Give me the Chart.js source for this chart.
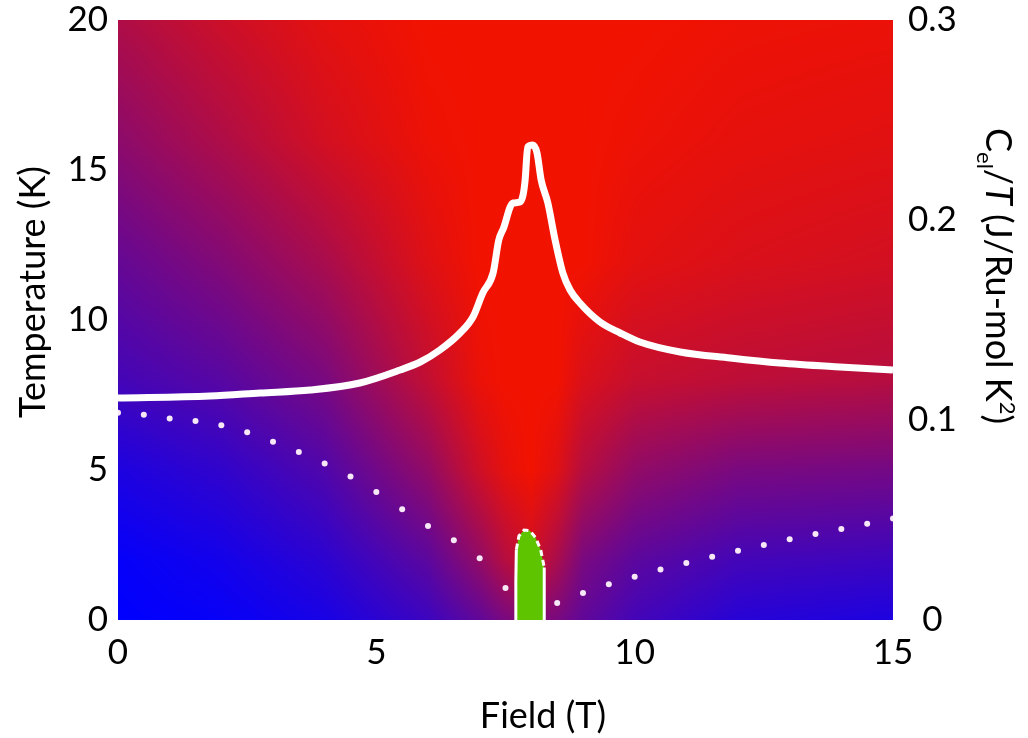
<!DOCTYPE html>
<html lang="en">
<head>
<meta charset="UTF-8">
<title>Cel/T map</title>
<script src="https://cdn.jsdelivr.net/npm/chart.js"></script>
<style>
  html, body { margin: 0; padding: 0; background: #fff; }
  .wrap { width: 1028px; height: 738px; }
</style>
</head>
<body>
<div class="wrap"><canvas id="mapChart" width="1028" height="738"></canvas></div>
<script>
// Cel/T along the field sweep (right axis)
const celField = [0, 1.78, 2.75, 3.72, 4.68, 5.46, 5.85, 6.23, 6.62, 6.87, 7.06, 7.26, 7.37, 7.47, 7.59, 7.65, 7.78, 7.84, 7.88, 7.93, 8.03, 8.11, 8.19, 8.32, 8.46, 8.61, 8.75, 8.94, 9.33, 9.72, 10.10, 10.88, 11.85, 12.81, 13.97, 15];
const celValue = [0.111, 0.112, 0.1135, 0.115, 0.1185, 0.125, 0.129, 0.135, 0.1435, 0.1515, 0.1635, 0.1735, 0.19, 0.1965, 0.2065, 0.2085, 0.209, 0.2125, 0.22, 0.2365, 0.2375, 0.2335, 0.22, 0.2085, 0.19, 0.1735, 0.165, 0.1585, 0.149, 0.1435, 0.139, 0.134, 0.131, 0.1285, 0.1265, 0.125];

// dotted transition line (left axis, K)
const dotField = [0, 0.5, 1, 1.5, 2, 2.5, 3, 3.5, 4, 4.5, 5, 5.5, 6, 6.5, 7, 7.5, 8.5, 9, 9.5, 10, 10.5, 11, 11.5, 12, 12.5, 13, 13.5, 14, 14.5, 15];
const dotTemp = [6.91, 6.84, 6.72, 6.63, 6.49, 6.26, 5.94, 5.6, 5.22, 4.78, 4.27, 3.69, 3.13, 2.66, 2.06, 1.07, 0.57, 0.9, 1.19, 1.44, 1.68, 1.9, 2.11, 2.31, 2.5, 2.69, 2.87, 3.03, 3.21, 3.38];

// green pocket outline
const pocketField = [7.7, 7.7, 7.71, 7.76, 7.86, 7.97, 8.08, 8.18, 8.25, 8.25, 8.25];
const pocketTemp = [0, 1.3, 2.35, 2.8, 3.0, 2.98, 2.75, 2.35, 1.75, 0.9, 0];

// background colour map: red share
const bgField = [0, 2, 4, 6, 7, 7.5, 8, 8.5, 9, 10, 12, 15];
const bgTemp = [0, 2, 5, 8, 12, 16, 20];
const bgLevel = [
  [0, 0.03, 0.1, 0.25, 0.4, 0.5, 0.55, 0.5, 0.4, 0.28, 0.16, 0.12],
  [0.02, 0.08, 0.18, 0.38, 0.6, 0.75, 0.85, 0.7, 0.5, 0.38, 0.28, 0.25],
  [0.12, 0.2, 0.33, 0.6, 0.85, 0.95, 1, 0.92, 0.75, 0.6, 0.5, 0.48],
  [0.28, 0.36, 0.5, 0.8, 0.97, 1, 1, 1, 0.9, 0.82, 0.78, 0.75],
  [0.42, 0.54, 0.7, 0.92, 1, 1, 1, 1, 1, 0.94, 0.9, 0.87],
  [0.58, 0.72, 0.87, 0.98, 1, 1, 1, 1, 1, 0.98, 0.95, 0.93],
  [0.72, 0.84, 0.94, 1, 1, 1, 1, 1, 1, 1, 0.98, 0.97]
];

const xTicks = [0, 5, 10, 15];
const yTicks = [0, 5, 10, 15, 20];
const y2Ticks = [0, 0.1, 0.2, 0.3];

const FONT = 'Lato, "Open Sans", sans-serif';

function bisect(arr, v) {
  let i = 0;
  while (i < arr.length - 2 && v > arr[i + 1]) i++;
  return i;
}

function levelAt(f, t) {
  const i = bisect(bgField, f), j = bisect(bgTemp, t);
  const u = Math.min(1, Math.max(0, (f - bgField[i]) / (bgField[i + 1] - bgField[i])));
  const v = Math.min(1, Math.max(0, (t - bgTemp[j]) / (bgTemp[j + 1] - bgTemp[j])));
  const a = bgLevel[j][i] * (1 - u) + bgLevel[j][i + 1] * u;
  const b = bgLevel[j + 1][i] * (1 - u) + bgLevel[j + 1][i + 1] * u;
  return a * (1 - v) + b * v;
}

const heatBackground = {
  id: 'heatBackground',
  beforeDatasetsDraw(chart) {
    const {ctx, chartArea: a, scales: {x, y}} = chart;
    const w = Math.round(a.right - a.left), h = Math.round(a.bottom - a.top);
    const off = document.createElement('canvas');
    off.width = w; off.height = h;
    const octx = off.getContext('2d');
    const img = octx.createImageData(w, h);
    for (let j = 0; j < h; j++) {
      const t = y.getValueForPixel(a.top + j + 0.5);
      for (let i = 0; i < w; i++) {
        const f = x.getValueForPixel(a.left + i + 0.5);
        const lv = levelAt(f, t);
        const k = (j * w + i) * 4;
        img.data[k] = Math.round(242 * lv);
        img.data[k + 1] = Math.round(18 * lv);
        img.data[k + 2] = Math.round(255 * (1 - lv));
        img.data[k + 3] = 255;
      }
    }
    octx.putImageData(img, 0, 0);
    ctx.drawImage(off, a.left, a.top);
  }
};

// axis titles, the right one needs sub/superscripts
const leftTitle = 'Temperature (K)';
const bottomTitle = 'Field (T)';
const rightTitle = [
  {text: 'C', style: ''},
  {text: 'el', style: 'sub'},
  {text: '/', style: ''},
  {text: 'T', style: 'italic'},
  {text: ' (J/Ru-mol K', style: ''},
  {text: '2', style: 'sup'},
  {text: ')', style: ''}
];

const axisTitles = {
  id: 'axisTitles',
  afterDraw(chart) {
    const ctx = chart.ctx;
    ctx.save();
    ctx.fillStyle = '#000';
    ctx.textBaseline = 'middle';
    ctx.textAlign = 'center';
    ctx.font = '36px ' + FONT;
    ctx.fillText(bottomTitle, 543, 716);

    ctx.save();
    ctx.translate(33, 292);
    ctx.rotate(-Math.PI / 2);
    ctx.fillText(leftTitle, 0, 0);
    ctx.restore();

    // right title, reads top to bottom
    const fontFor = s => s === 'italic' ? 'italic 36px ' + FONT : (s === 'sub' || s === 'sup') ? '22px ' + FONT : '36px ' + FONT;
    let total = 0;
    rightTitle.forEach(p => { ctx.font = fontFor(p.style); total += ctx.measureText(p.text).width; });
    ctx.translate(986, 276);
    ctx.rotate(Math.PI / 2);
    ctx.textAlign = 'left';
    ctx.textBaseline = 'alphabetic';
    let pos = -total / 2;
    rightTitle.forEach(p => {
      ctx.font = fontFor(p.style);
      const dy = p.style === 'sub' ? 9 : p.style === 'sup' ? -14 : 0;
      ctx.fillText(p.text, pos, dy);
      pos += ctx.measureText(p.text).width;
    });
    ctx.restore();
  }
};

const pts = (xs, ys) => xs.map((v, i) => ({x: v, y: ys[i]}));

// vertical axes: fixed width, no extra room for the end labels
const fixY = w => s => { s.width = w; s.paddingTop = 0; s.paddingBottom = 0; };

new Chart(document.getElementById('mapChart'), {
  type: 'scatter',
  data: {
    datasets: [
      {
        label: 'pocket',
        data: pts(pocketField, pocketTemp),
        yAxisID: 'y',
        showLine: true,
        fill: 'origin',
        backgroundColor: '#5fc400',
        borderColor: '#ffffff',
        borderWidth: 3,
        pointRadius: 0,
        segment: {
          borderDash: c => (c.p0DataIndex >= 2 && c.p1DataIndex <= 8) ? [6, 4] : undefined
        }
      },
      {
        label: 'Cel/T',
        data: pts(celField, celValue),
        yAxisID: 'y2',
        showLine: true,
        borderColor: '#ffffff',
        borderWidth: 7,
        pointRadius: 0,
        cubicInterpolationMode: 'monotone',
        fill: false
      },
      {
        label: 'transition',
        data: pts(dotField, dotTemp),
        yAxisID: 'y',
        showLine: false,
        pointRadius: 3,
        pointBorderWidth: 0,
        pointBackgroundColor: '#f6e8f6'
      }
    ]
  },
  options: {
    responsive: false,
    animation: false,
    layout: { padding: { top: 20, left: 0, right: 0, bottom: 0 } },
    plugins: { legend: { display: false }, tooltip: { enabled: false } },
    scales: {
      x: {
        type: 'linear', min: 0, max: 15,
        afterBuildTicks: s => { s.ticks = xTicks.map(v => ({value: v})); },
        afterFit: s => { s.height = 118; },
        grid: { display: false, drawTicks: false },
        border: { display: false },
        ticks: { color: '#000', padding: 12, maxRotation: 0, font: { family: FONT, size: 35 } }
      },
      y: {
        type: 'linear', position: 'left', min: 0, max: 20,
        afterBuildTicks: s => { s.ticks = yTicks.map(v => ({value: v})); },
        afterFit: fixY(118),
        grid: { display: false, drawTicks: false },
        border: { display: false },
        ticks: { color: '#000', padding: 10, font: { family: FONT, size: 35 } }
      },
      y2: {
        type: 'linear', position: 'right', min: 0, max: 0.3,
        afterBuildTicks: s => { s.ticks = y2Ticks.map(v => ({value: v})); },
        afterFit: fixY(135),
        grid: { display: false, drawTicks: false },
        border: { display: false },
        ticks: { color: '#000', padding: 15, crossAlign: 'center', font: { family: FONT, size: 35 },
          callback: v => v === 0 ? '0' : v.toFixed(1) }
      }
    }
  },
  plugins: [heatBackground, axisTitles]
});
</script>
</body>
</html>
